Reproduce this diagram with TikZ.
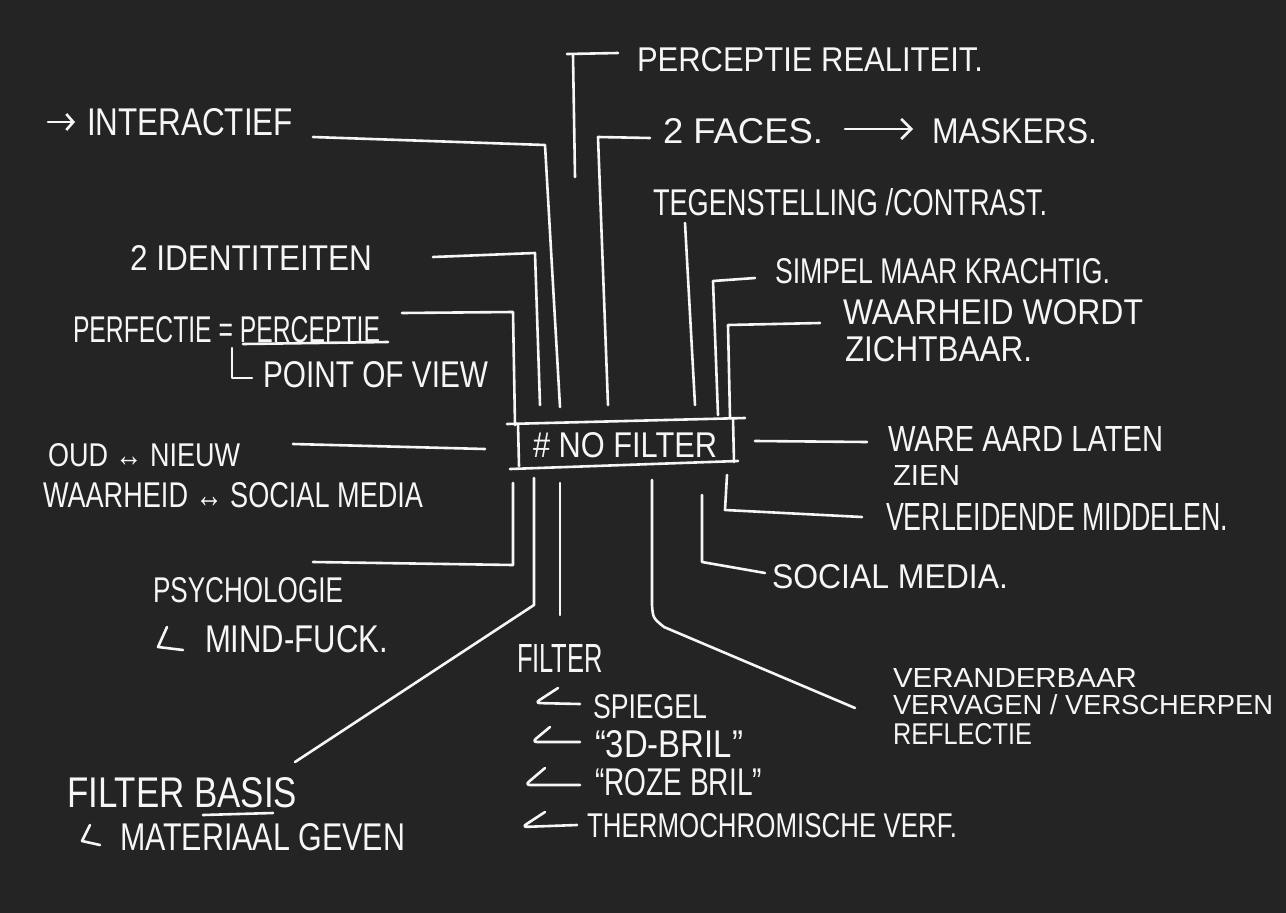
\documentclass[tikz,border=0pt]{standalone}
\usepackage{fontspec}
\setmainfont{Liberation Sans}
\usepackage{graphicx}
\usetikzlibrary{arrows.meta}
\definecolor{bg}{RGB}{36,36,36}
\definecolor{ink}{RGB}{246,246,246}
\newcommand\hw[3]{\resizebox{#1pt}{#2pt}{#3}}
\begin{document}
\begin{tikzpicture}[x=1pt,y=-1pt,
  ln/.style={line width=2.6pt, draw=ink, line cap=round, line join=round},
  txt/.style={anchor=base west, inner sep=0pt, outer sep=0pt, text=ink}]
\fill[bg] (0,0) rectangle (1286,913);
\useasboundingbox (0,0) rectangle (1286,913);

% ---------- centre ----------
\node[txt] (hub) at (533,457) {\hw{184}{25}{\# NO FILTER}};
\coordinate (bt1) at (507,424); \coordinate (bt2) at (745,418);
\coordinate (bb1) at (510,469); \coordinate (bb2) at (738,461);
\coordinate (bl1) at (518,424); \coordinate (bl2) at (519,466);
\coordinate (br1) at (733,418); \coordinate (br2) at (734,462);
\draw[ln] (bt1) -- (bt2);
\draw[ln] (bb1) -- (bb2);
\draw[ln] (bl1) -- (bl2);
\draw[ln] (br1) -- (br2);

% ---------- texts ----------
\node[txt] (perc) at (637,71) {\hw{346}{24}{PERCEPTIE REALITEIT.}};
\node[txt] (faces) at (663,143) {\hw{160}{25}{2 FACES.}};
\node[txt] (maskers) at (932,143) {\hw{165}{25}{MASKERS.}};
\node[txt] (teg) at (653,215) {\hw{394}{27}{TEGENSTELLING /CONTRAST.}};
\node[txt] (simpel) at (775,283) {\hw{335}{25}{SIMPEL MAAR KRACHTIG.}};
\node[txt] (waar1) at (843,324) {\hw{300}{25}{WAARHEID WORDT}};
\node[txt] (waar2) at (845,361) {\hw{187}{25}{ZICHTBAAR.}};
\node[txt] (ware1) at (888,451) {\hw{275}{25}{WARE AARD LATEN}};
\node[txt] (ware2) at (893,485) {\hw{67}{20}{ZIEN}};
\node[txt] (verl) at (886,530) {\hw{342}{27}{VERLEIDENDE MIDDELEN.}};
\node[txt] (soc) at (772,588) {\hw{236}{24}{SOCIAL MEDIA.}};
\node[txt] (ver1) at (893,687) {\hw{244}{19}{VERANDERBAAR}};
\node[txt] (ver2) at (893,714) {\hw{380}{20}{VERVAGEN / VERSCHERPEN}};
\node[txt] (ver3) at (893,744) {\hw{139}{21}{REFLECTIE}};
\node[txt] (filter) at (517,672) {\hw{86}{28}{FILTER}};
\node[txt] (spiegel) at (593,718) {\hw{114}{24}{SPIEGEL}};
\node[txt] (bril3d) at (595,757) {\hw{148}{27}{“3D-BRIL”}};
\node[txt] (roze) at (595,795) {\hw{167}{27}{“ROZE BRIL”}};
\node[txt] (thermo) at (587,837) {\hw{370}{24}{THERMOCHROMISCHE VERF.}};
\node[txt] (basis) at (67,807) {\hw{230}{30}{FILTER BASIS}};
\node[txt] (mat) at (120,850) {\hw{285}{27}{MATERIAAL GEVEN}};
\node[txt] (psy) at (153,602) {\hw{190}{25}{PSYCHOLOGIE}};
\node[txt] (mind) at (205,652) {\hw{183}{27}{MIND-FUCK.}};
\node[txt] (oud) at (48,466) {\hw{192}{23}{OUD ↔ NIEUW}};
\node[txt] (waarsoc) at (43,507) {\hw{380}{25}{WAARHEID ↔ SOCIAL MEDIA}};
\node[txt] (perf) at (73,342) {\hw{307}{26}{PERFECTIE = PERCEPTIE}};
\node[txt] (pov) at (263,387) {\hw{225}{26}{POINT OF VIEW}};
\node[txt] (ident) at (130,270) {\hw{242}{25}{2 IDENTITEITEN}};
\node[txt] (inter) at (87,135) {\hw{206}{27}{INTERACTIEF}};

% ---------- connectors ----------
\coordinate (i0) at (313,137); \coordinate (i1) at (545,145); \coordinate (i2) at (560,407);
\draw[ln] (i0) -- (i1) -- (i2);
\coordinate (p0) at (567,54); \coordinate (p1) at (618,53);
\coordinate (p2) at (573,55); \coordinate (p3) at (575,177);
\draw[ln] (p0) -- (p1);
\draw[ln] (p2) -- (p3);
\coordinate (f0) at (650,138); \coordinate (f1) at (598,137); \coordinate (f2) at (608,405);
\draw[ln] (f0) -- (f1) -- (f2);
\coordinate (d0) at (433,257); \coordinate (d1) at (535,253); \coordinate (d2) at (540,405);
\draw[ln] (d0) -- (d1) -- (d2);
\coordinate (t0) at (685,223); \coordinate (t1) at (695,405);
\draw[ln] (t0) -- (t1);
\coordinate (s0) at (755,278); \coordinate (s1) at (713,281); \coordinate (s2) at (718,415);
\draw[ln] (s0) -- (s1) -- (s2);
\coordinate (w0) at (820,323); \coordinate (w1) at (728,325); \coordinate (w2) at (730,417);
\draw[ln] (w0) -- (w1) -- (w2);
\coordinate (e0) at (402,313); \coordinate (e1) at (513,312); \coordinate (e2) at (515,425);
\draw[ln] (e0) -- (e1) -- (e2);
\coordinate (o0) at (293,444); \coordinate (o1) at (485,449);
\draw[ln] (o0) -- (o1);
\coordinate (a0) at (755,441); \coordinate (a1) at (867,442);
\draw[ln] (a0) -- (a1);
\coordinate (v0) at (727,475); \coordinate (v1) at (725,510); \coordinate (v2) at (862,517);
\draw[ln] (v0) -- (v1) -- (v2);
\coordinate (m0) at (702,495); \coordinate (m1) at (702,562); \coordinate (m2) at (765,573);
\draw[ln] (m0) -- (m1) -- (m2);
\coordinate (r0) at (652,480); \coordinate (r1) at (652,605); \coordinate (r2) at (664,627); \coordinate (r3) at (855,708);
\draw[ln] (r0) -- (r1) .. controls (653,618) .. (r2) -- (r3);
\coordinate (b0) at (534,478); \coordinate (b1) at (534,605); \coordinate (b2) at (295,762);
\draw[ln] (b0) -- (b1) -- (b2);
\coordinate (l0) at (560,483); \coordinate (l1) at (560,615);
\draw[ln] (l0) -- (l1);
\coordinate (y0) at (513,483); \coordinate (y1) at (513,565); \coordinate (y2) at (313,562);
\draw[ln] (y0) -- (y1) -- (y2);

% arrows inside texts
\coordinate (ia0) at (48,122); \coordinate (ia1) at (75,122);
\draw[ln, -{Straight Barb[length=7pt,width=16pt]}] (ia0) -- (ia1);
\coordinate (fa0) at (845,129); \coordinate (fa1) at (913,129);
\draw[ln, -{Straight Barb[length=10pt,width=20pt]}] (fa0) -- (fa1);

% ---------- hand-drawn marks ----------
\draw[ln] (243,344) -- (388,342);
\draw[ln] (232,348) -- (232,378) -- (252,378);
\draw[ln] (167,627) -- (158,647) -- (183,650);
\draw[ln] (90,825) -- (82,841) -- (100,845);
\draw[ln] (203,815) -- (273,813);
\draw[ln, rounded corners=5pt] (558,688) -- (535,703) -- (580,704);
\draw[ln, rounded corners=5pt] (550,727) -- (532,742) -- (580,742);
\draw[ln, rounded corners=5pt] (545,768) -- (525,785) -- (580,785);
\draw[ln, rounded corners=5pt] (545,812) -- (522,827) -- (577,825);
\end{tikzpicture}
\end{document}
